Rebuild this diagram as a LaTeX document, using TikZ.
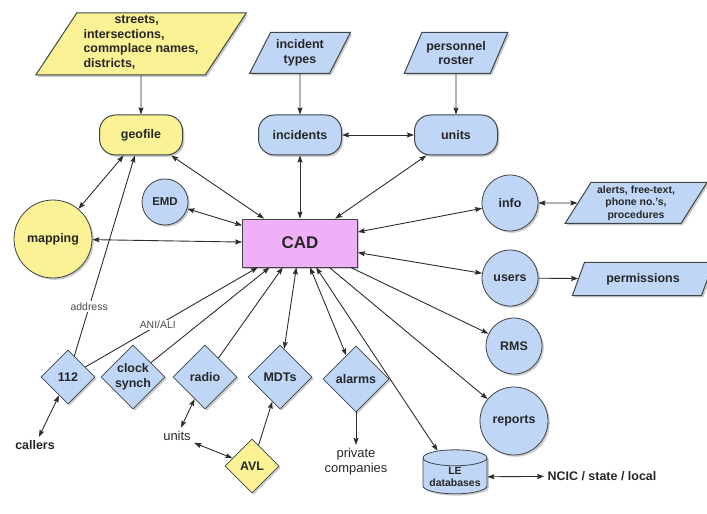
\documentclass[tikz,border=0pt]{standalone}
\usepackage{fontspec}
\setmainfont{Liberation Sans}
\usetikzlibrary{shapes.geometric,shadows,arrows.meta}

\definecolor{geoyellow}{RGB}{250,242,148}
\definecolor{cadblue}{RGB}{192,214,247}
\definecolor{cadpink}{RGB}{240,176,248}
\definecolor{rimgray}{RGB}{62,70,70}
\definecolor{wiregray}{RGB}{45,45,45}

\tikzset{
  every node/.style={font=\fontsize{12.5}{14.5}\selectfont\bfseries, text=black!85},
  dropped/.style={drop shadow={shadow xshift=1.8bp, shadow yshift=-1.8bp, opacity=0.35, fill=black!60}},
  rbox/.style={rectangle, rounded corners=16bp, draw=rimgray, line width=1bp, minimum width=83bp, minimum height=40bp, dropped},
  ball/.style={circle, draw=rimgray, line width=0.8bp, fill=cadblue, inner sep=0pt, dropped},
  slab/.style={trapezium, trapezium left angle=57, trapezium right angle=123, trapezium stretches=true, draw=rimgray, line width=1bp, inner sep=0pt, dropped},
  gem/.style={diamond, aspect=1, draw=rimgray, line width=0.8bp, fill=cadblue, inner sep=0pt, dropped},
  wire/.style={draw=wiregray, line width=0.9bp},
  tag/.style={font=\fontsize{10.5}{12}\selectfont, text=black!70, fill=white, inner sep=1.5bp},
  >={Stealth[length=7bp,width=5bp,inset=1bp]}
}

\begin{document}
\begin{tikzpicture}[x=1bp, y=-1bp]
\useasboundingbox (0,0) rectangle (707,514);

\node[slab, fill=geoyellow, minimum width=211bp, minimum height=62bp, align=left] (streets) at (141,44) {\hspace*{31bp}streets,\\intersections,\\commplace names,\\districts,\rule[-5bp]{0pt}{5bp}};
\node[slab, fill=cadblue, minimum width=101bp, minimum height=41bp, align=center] (inctypes) at (300,53) {incident\\types};
\node[slab, fill=cadblue, minimum width=104bp, minimum height=41bp, align=center] (roster) at (456,53) {personnel\\roster};

\node[rbox, fill=geoyellow] (geofile) at (141,135) {geofile};
\node[rbox, fill=cadblue] (incidents) at (300,135) {incidents};
\node[rbox, fill=cadblue] (units) at (456,135) {units};

\node[ball, fill=geoyellow, minimum size=78bp] (mapping) at (53,239) {mapping};
\node[ball, minimum size=46bp, font=\fontsize{11.5}{13}\selectfont\bfseries] (emd) at (165,202) {EMD};
\node[rectangle, draw=rimgray, line width=0.8bp, fill=cadpink, minimum width=115bp, minimum height=48bp, dropped, font=\fontsize{17}{20}\selectfont\bfseries] (cad) at (300,243) {CAD};

\node[ball, minimum size=56bp] (info) at (510,203) {info};
\node[slab, fill=cadblue, minimum width=142bp, minimum height=41bp, align=center, font=\fontsize{10.5}{12.5}\selectfont\bfseries] (alerts) at (636,203) {alerts, free-text,\\phone no.'s,\\procedures};
\node[ball, minimum size=56bp] (users) at (510,278) {users};
\node[slab, fill=cadblue, minimum width=142bp, minimum height=33bp] (perms) at (643,279) {permissions};
\node[ball, minimum size=56bp] (rms) at (514,346) {RMS};
\node[ball, minimum size=68bp] (reports) at (514,421) {reports};
\node[cylinder, shape border rotate=90, aspect=0.3, draw=rimgray, line width=0.8bp, fill=cadblue, minimum width=64bp, minimum height=44bp, inner sep=1bp, dropped, align=center, font=\fontsize{10.5}{12}\selectfont\bfseries] (ledb) at (455,477) {LE\\databases};
\node (ncic) at (602,476) {NCIC / state / local};

\node[gem, minimum size=54bp] (d112) at (68,377) {112};
\node[gem, minimum size=64bp, align=center] (clock) at (133,377) {clock\\synch};
\node[gem, minimum size=64bp] (radio) at (205,377) {radio};
\node[gem, minimum size=64bp] (mdts) at (280,377) {MDTs};
\node[gem, minimum size=66bp] (alarms) at (356,379) {alarms};
\node[gem, fill=geoyellow, minimum size=54bp] (avl) at (252,466) {AVL};

\node (callers) at (35,445) {callers};
\node[font=\fontsize{13}{15}\selectfont] (field) at (177,436) {units};
\node[align=center, font=\fontsize{13}{15}\selectfont] (private) at (356,462) {private\\companies};

\draw[wire, ->] (streets) -- (geofile);
\draw[wire, ->] (inctypes) -- (incidents);
\draw[wire, ->] (roster) -- (units);
\draw[wire, <->] (incidents) -- (units);
\draw[wire, <->] (geofile) -- (mapping);
\draw[wire, <->] (geofile) -- (cad);
\draw[wire, <->] (incidents) -- (cad);
\draw[wire, <->] (units) -- (cad);
\draw[wire, <->] (mapping) -- (cad);
\draw[wire, <->] (emd) -- (cad);
\draw[wire, <->] (info) -- (cad);
\draw[wire, <->] (info) -- (alerts);
\draw[wire, <->] (users) -- (cad);
\draw[wire, ->] (users) -- (perms);
\draw[wire, ->] (cad) -- (rms);
\draw[wire, ->] (cad) -- (reports);
\draw[wire, <->] (cad) -- (ledb);
\draw[wire, <->] (ledb) -- (ncic);
\draw[wire, ->] (d112) -- node[tag, pos=0.245] {address} (geofile);
\draw[wire, ->] (d112) -- node[tag, pos=0.42] {ANI/ALI} (cad);
\draw[wire, <->] (d112) -- (callers);
\draw[wire, ->] (clock) -- (cad);
\draw[wire, ->] (radio) -- (cad);
\draw[wire, <->] (radio) -- (field);
\draw[wire, <->] (field) -- (avl);
\draw[wire, ->] (avl) -- (mdts);
\draw[wire, <->] (mdts) -- (cad);
\draw[wire, <->] (alarms) -- (cad);
\draw[wire, ->] (alarms) -- (private);
\end{tikzpicture}
\end{document}
